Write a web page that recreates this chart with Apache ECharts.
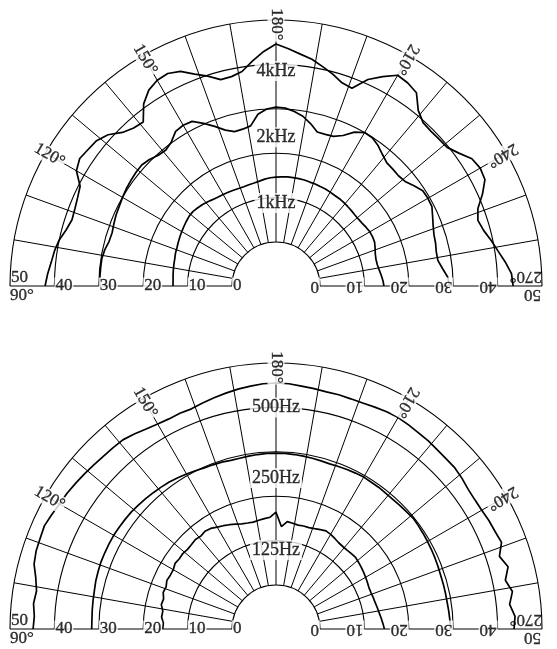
<!DOCTYPE html>
<html>
<head>
  <meta charset="utf-8">
  <title>polar</title>
  <style>
    html, body { margin: 0; padding: 0; background: #fff; }
  </style>
</head>
<body>
  <div id="main" style="width: 557px;height:649px;"></div>
</body>
<script src="https://cdn.jsdelivr.net/npm/echarts@6/dist/echarts.min.js"></script>
<script>
  // angle (deg) of each reading, 90 = left, 180 = top, 270 = right
  let angles = [
    90, 93, 96, 99, 102, 105, 108, 111, 114, 117,
    120, 123, 126, 129, 132, 135, 138, 141, 144, 147,
    150, 153, 156, 159, 162, 165, 168, 171, 174, 177,
    180, 183, 186, 189, 192, 195, 198, 201, 204, 207,
    210, 213, 216, 219, 222, 225, 228, 231, 234, 237,
    240, 243, 246, 249, 252, 255, 258, 261, 264, 267,
    270
  ];

  let f4k = [
    42.1, 41.6, 41.0, 40.6, 40.0, 39.0, 38.4, 38.6, 39.0, 39.6,
    42.0, 42.8, 42.4, 42.1, 41.0, 39.0, 38.0, 37.6, 40.8, 42.7,
    43.6, 43.8, 43.0, 41.2, 39.8, 38.2, 38.3, 39.0, 41.0, 43.0,
    44.6, 43.6, 42.6, 41.8, 40.6, 39.5, 38.2, 37.8, 41.0, 43.0,
    44.9, 44.6, 43.9, 41.0, 39.6, 39.4, 39.5, 39.7, 41.0, 42.7,
    43.2, 42.9, 41.0, 38.8, 37.9, 38.5, 39.6, 40.7, 42.0, 43.2,
    43.5
  ];
  let f2k = [
    29.8, 29.8, 29.8, 29.8, 29.5, 29.0, 28.9, 29.2, 29.5, 29.7,
    30.0, 30.3, 30.5, 30.7, 30.8, 30.4, 29.7, 29.5, 30.2, 31.6,
    31.9, 31.7, 30.2, 28.6, 27.0, 26.1, 26.2, 26.6, 29.0, 30.0,
    30.4, 30.2, 29.6, 28.8, 27.5, 26.0, 26.0, 26.2, 27.2, 29.0,
    30.0, 29.9, 29.2, 28.2, 27.4, 27.3, 27.2, 27.5, 28.5, 29.5,
    29.6, 29.5, 28.7, 28.0, 27.5, 27.3, 27.0, 27.0, 27.8, 28.8,
    29.2
  ];
  let f1k = [
    13.3, 13.3, 13.4, 13.5, 13.6, 13.7, 13.9, 14.0, 14.2, 14.4,
    14.6, 14.8, 15.0, 15.2, 15.2, 15.0, 14.8, 14.5, 14.2, 14.0,
    13.9, 13.8, 13.7, 13.6, 13.6, 13.7, 13.8, 14.0, 14.3, 14.5,
    14.6, 14.7, 14.8, 14.8, 14.8, 14.8, 14.7, 14.7, 14.6, 14.6,
    14.5, 14.4, 14.4, 14.3, 14.2, 14.1, 14.0, 14.0, 14.1, 14.3,
    14.5, 14.5, 14.4, 14.0, 13.6, 13.4, 13.4, 13.6, 13.9, 14.2,
    14.4
  ];
  let f500 = [
    44.8, 44.6, 45.0, 44.7, 45.4, 46.5, 46.9, 47.0, 47.2, 46.8,
    46.4, 46.2, 45.9, 45.6, 45.3, 45.1, 45.0, 44.9, 44.4, 43.8,
    43.4, 43.2, 43.3, 43.2, 43.6, 44.0, 44.4, 44.8, 45.1, 45.4,
    45.5, 45.4, 45.1, 44.9, 44.7, 44.7, 44.6, 44.6, 44.8, 45.0,
    45.1, 44.9, 44.7, 44.6, 44.4, 44.3, 44.3, 44.0, 43.6, 43.5,
    43.6, 43.9, 44.1, 44.5, 43.0, 44.2, 42.9, 44.0, 43.0, 44.0,
    43.7
  ];
  let f250 = [
    31.6, 31.6, 31.7, 31.8, 31.9, 32.1, 32.2, 32.3, 32.3, 32.3,
    32.3, 32.2, 32.1, 32.0, 31.8, 31.6, 31.4, 31.2, 31.0, 30.7,
    30.4, 30.1, 29.8, 29.7, 29.6, 29.4, 29.4, 29.5, 29.6, 29.7,
    29.7, 29.7, 29.6, 29.5, 29.4, 29.3, 29.2, 29.3, 29.4, 29.5,
    29.6, 29.5, 29.5, 29.4, 29.4, 29.5, 29.6, 29.8, 29.7, 29.6,
    29.5, 29.4, 29.3, 29.2, 29.1, 29.1, 29.1, 29.1, 29.2, 29.3,
    29.4
  ];
  let f125 = [
    15.6, 15.5, 16.0, 15.9, 16.5, 16.3, 16.8, 16.6, 17.0, 16.8,
    16.8, 17.2, 17.0, 17.1, 16.9, 17.0, 17.2, 17.0, 17.3, 17.1,
    16.6, 16.2, 15.8, 15.4, 15.0, 14.8, 14.7, 14.9, 15.1, 15.3,
    16.4, 13.2, 14.4, 14.2, 14.0, 14.1, 14.1, 14.3, 14.6, 14.9,
    14.7, 14.4, 14.1, 14.0, 14.0, 14.1, 14.2, 14.0, 13.8, 13.6,
    13.4, 13.2, 13.0, 13.0, 13.1, 13.2, 13.4, 13.6, 13.9, 14.2,
    14.5
  ];

  let angleTicks = [90, 120, 150, 180, 210, 240, 270];
  let radiusTicks = [0, 10, 20, 30, 40, 50];
  let topNames = ['4kHz', '2kHz', '1kHz'];
  let bottomNames = ['500Hz', '250Hz', '125Hz'];

  // where the frequency names sit on the 180 line (radius value)
  let topNameR = [38.5, 23.6, 8.8];
  let bottomNameR = [40, 24.1, 7.9];

  const FONT = 'Liberation Serif';

  function curve(vals, polarIndex) {
    return {
      type: 'line',
      coordinateSystem: 'polar',
      polarIndex: polarIndex,
      showSymbol: false,
      silent: true,
      z: 3,
      lineStyle: { color: '#000', width: 1.7 },
      data: angles.map((a, i) => [vals[i], a])
    };
  }

  function textItems(names, nameR) {
    let items = [];
    // angle labels round the rim
    angleTicks.forEach(t => {
      let lab = { formatter: t + '°', rotate: 90 - t, align: 'center', verticalAlign: 'middle' };
      let r = 49;
      if (t == 90 || t == 270) {
        r = 50;
        lab.align = 'left';
        lab.verticalAlign = 'top';
        lab.backgroundColor = 'transparent';
        lab.padding = [1, 0, 0, 0];
      }
      items.push({ value: [r, t], label: lab });
    });
    // radius labels along the base line, both sides
    radiusTicks.forEach(v => {
      let vAlign = v == 50 ? 'bottom' : 'middle';
      let bg = v == 50 ? 'transparent' : '#fff';
      items.push({ value: [v, 90], label: { formatter: String(v), rotate: 0, align: 'left', verticalAlign: vAlign, backgroundColor: bg } });
      items.push({ value: [v, 270], label: { formatter: String(v), rotate: -180, align: 'left', verticalAlign: vAlign, backgroundColor: bg } });
    });
    // frequency names
    names.forEach((n, i) => {
      items.push({ value: [nameR[i], 180], label: { formatter: n, rotate: 0, align: 'center', verticalAlign: 'middle', fontSize: 18, padding: [1, 2] } });
    });
    return items;
  }

  function textSeries(polarIndex, items) {
    return {
      type: 'scatter',
      coordinateSystem: 'polar',
      polarIndex: polarIndex,
      symbolSize: 0,
      silent: true,
      z: 6,
      label: {
        show: true,
        position: [0, 0],
        color: '#000',
        fontFamily: FONT,
        fontSize: 17,
        textBorderColor: '#000',
        textBorderWidth: 0.35,
        backgroundColor: '#fff',
        padding: [0, 1]
      },
      data: items
    };
  }

  var myChart = echarts.init(document.getElementById('main'));

  option = {
    animation: false,
    backgroundColor: '#fff',
    polar: [
      { center: [276, 286], radius: [44, 266] },
      { center: [276, 629], radius: [44, 266] }
    ],
    angleAxis: [0, 1].map(i => ({
      polarIndex: i,
      type: 'value',
      min: 90,
      max: 270,
      interval: 10,
      startAngle: 180,
      endAngle: 0,
      clockwise: true,
      axisLine: { show: false },
      axisTick: { show: false },
      axisLabel: { show: false },
      splitLine: { show: true, lineStyle: { color: '#000', width: 1 } }
    })),
    radiusAxis: [0, 1].map(i => ({
      polarIndex: i,
      type: 'value',
      min: 0,
      max: 50,
      interval: 10,
      axisLine: { show: false },
      axisTick: { show: false },
      axisLabel: { show: false },
      splitLine: { show: true, lineStyle: { color: '#000', width: 1.1 } }
    })),
    series: [
      curve(f4k, 0),
      curve(f2k, 0),
      curve(f1k, 0),
      curve(f500, 1),
      curve(f250, 1),
      curve(f125, 1),
      textSeries(0, textItems(topNames, topNameR)),
      textSeries(1, textItems(bottomNames, bottomNameR))
    ]
  };

  myChart.setOption(option);
</script>
</html>
